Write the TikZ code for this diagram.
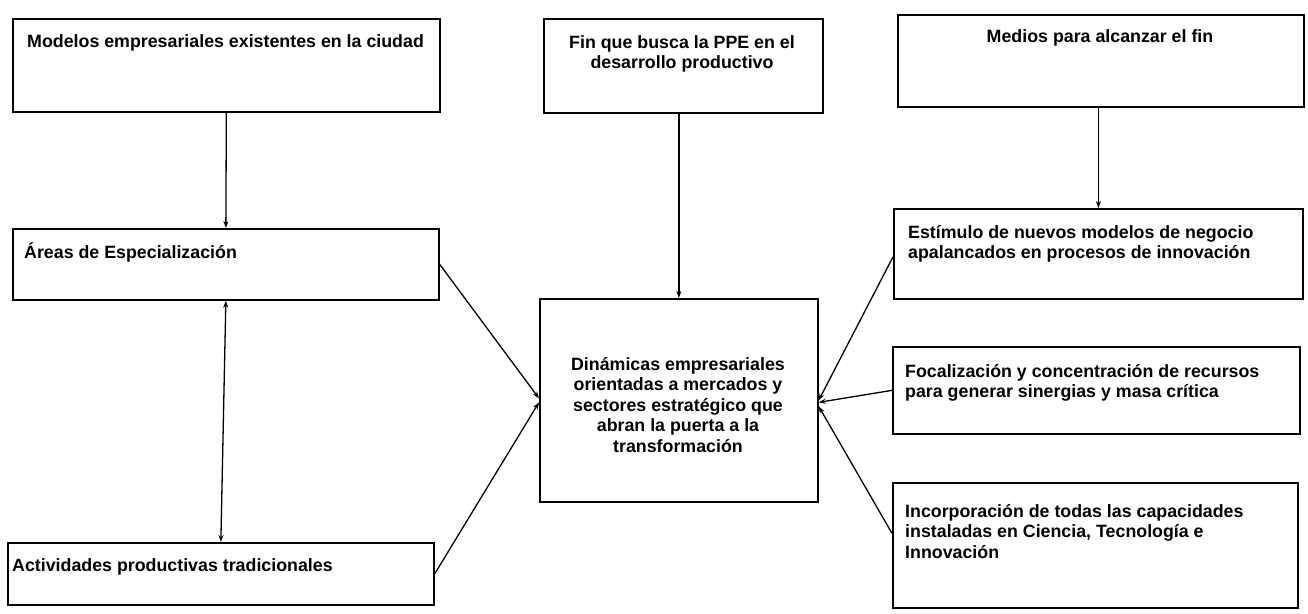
\documentclass[tikz,border=0pt]{standalone}
\usepackage{fontspec}
\setmainfont{Liberation Sans}
\usetikzlibrary{arrows.meta}
\newcommand\mystrut{\rule{0pt}{17pt}}
\tikzset{
  box/.style={draw, line width=1.7pt, rectangle, anchor=north west, inner sep=0pt},
  txt/.style={anchor=north west, inner sep=0pt, font=\bfseries\fontsize{17.8}{20.5}\selectfont, align=left},
  ctxt/.style={anchor=north, inner sep=0pt, font=\bfseries\fontsize{17.8}{20.5}\selectfont, align=center},
  arr/.style={-{Stealth[length=7pt,width=5pt]}, line width=1.3pt},
  darr/.style={{Stealth[length=7pt,width=5pt]}-{Stealth[length=7pt,width=5pt]}, line width=1.3pt},
}
\begin{document}
\begin{tikzpicture}[x=1pt,y=-1pt]
\fill[white] (0,0) rectangle (1308,613);
\useasboundingbox (0,0) rectangle (1308,613);
% boxes
\node[box, minimum width=427pt, minimum height=93pt] (A) at (12,18) {};
\node[box, minimum width=279pt, minimum height=94pt] (B) at (543,18) {};
\node[box, minimum width=406pt, minimum height=92pt] (C) at (897,14) {};
\node[box, minimum width=426pt, minimum height=71pt] (D) at (12,228) {};
\node[box, minimum width=426pt, minimum height=62pt] (E) at (7,542) {};
\node[box, minimum width=278pt, minimum height=203pt] (F) at (539,298) {};
\node[box, minimum width=409pt, minimum height=90pt] (R1) at (893,208) {};
\node[box, minimum width=407pt, minimum height=87pt] (R2) at (892,346) {};
\node[box, minimum width=405pt, minimum height=125pt] (R3) at (892,482) {};
% texts
\node[txt] (tA) at (27,30) {\mystrut Modelos empresariales existentes en la ciudad};
\node[ctxt] (tB) at (682,31) {\mystrut Fin que busca la PPE en el\\desarrollo productivo};
\node[ctxt] (tC) at (1100,25) {\mystrut Medios para alcanzar el fin};
\node[txt] (tD) at (24,241) {\mystrut Áreas de Especialización};
\node[txt] (tE) at (12,554) {\mystrut Actividades productivas tradicionales};
\node[ctxt] (tF) at (678,353) {\mystrut Dinámicas empresariales\\orientadas a mercados y\\sectores estratégico que\\abran la puerta a la\\transformación};
\node[txt] (tR1) at (908,221) {\mystrut Estímulo de nuevos modelos de negocio\\apalancados en procesos de innovación};
\node[txt] (tR2) at (905,360) {\mystrut Focalización y concentración de recursos\\para generar sinergias y masa crítica};
\node[txt] (tR3) at (905,500) {\mystrut Incorporación de todas las capacidades\\instaladas en Ciencia, Tecnología e\\Innovación};
% connectors
\draw[arr] (A.south) -- (D.north);
\draw[darr] (D.south) -- (E.north);
\draw[arr] (D.east) -- ([yshift=2pt]F.west);
\draw[arr] (E.east) -- ([yshift=-2pt]F.west);
\draw[arr] (F.north |- B.south) -- (F.north);
\draw[arr] (R1.north |- C.south) -- (R1.north);
\draw[arr] ([yshift=-3pt]R1.west) -- (F.east);
\draw[arr] (R2.west) -- ([yshift=-2pt]F.east);
\draw[arr] ([yshift=12pt]R3.west) -- ([yshift=-6pt]F.east);
\end{tikzpicture}
\end{document}
